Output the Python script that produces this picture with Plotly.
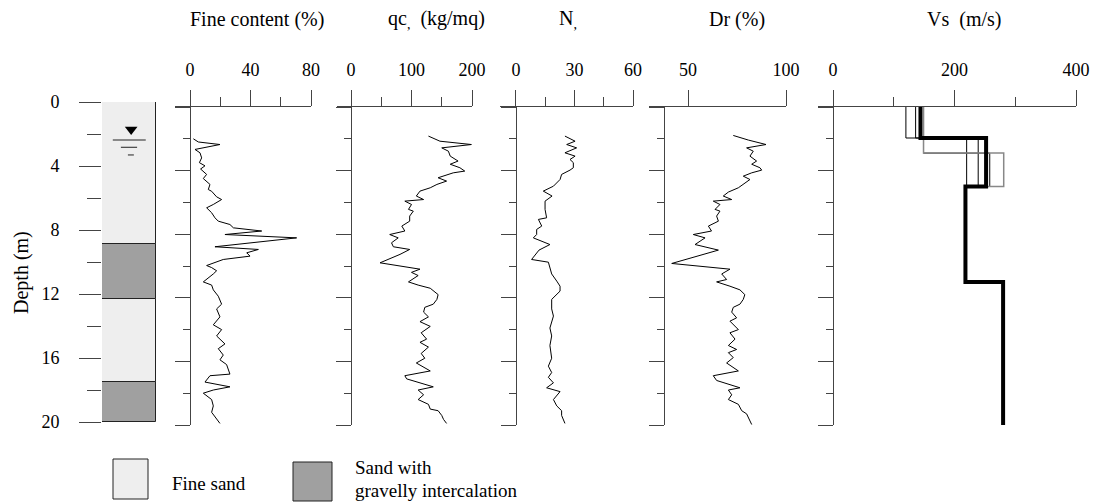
import plotly.graph_objects as go

W, H = 1095, 504
SERIF = "Liberation Serif, Times New Roman, serif"
INK = "#222222"
AXC = "#444444"


def fx(px):
    return px / W


def fy(py):
    return 1 - py / H


# ---- soil column ----
layer_top = [0, 8.9, 12.3, 17.5]
layer_bottom = [8.9, 12.3, 17.5, 20]
layer_kind = ["fine", "gravel", "fine", "gravel"]
kind_color = {"fine": "#eeeeee", "gravel": "#a0a0a0"}

# ---- CPT / SPT logs ----
fc_depth = [2.0, 2.2, 2.36, 2.67, 2.88, 3.2, 3.5, 3.7, 3.9, 4.24, 4.5, 4.87, 5.19, 5.3, 5.65,
            5.82, 6.13, 6.34, 6.65, 6.97, 7.18, 7.39, 7.6, 7.8, 8.02, 8.23, 8.79, 8.96, 9.17,
            9.38, 9.59, 9.97, 10.1, 10.3, 10.5, 11.0, 11.2, 11.5, 11.9, 12.4, 12.7, 13.2, 13.7,
            14.0, 14.4, 14.9, 15.2, 15.6, 15.9, 16.2, 16.8, 16.9, 17.3, 17.6, 17.8, 18.0, 18.4,
            18.8, 19.2, 19.65, 19.9]
fc_value = [2.2, 5.5, 19.8, 3.3, 6.6, 7.7, 6.2, 9.9, 7.0, 11, 8.8, 13.2, 12.1, 14.3, 17.6,
            20.9, 15.4, 11, 14.3, 16.5, 18.7, 26.4, 28.7, 47.4, 23.1, 70.5, 16.5, 45.2, 37.5,
            39.7, 22, 11, 14.3, 17.6, 15.4, 8.8, 14.3, 15.4, 18.7, 20.9, 17.6, 19.8, 15.4,
            20.9, 17.6, 23.1, 18.7, 22, 19.8, 24.2, 26.4, 13.2, 9.9, 26.4, 15.4, 8.8, 14.3,
            15.4, 14.3, 17.6, 19.8]

qc_depth = [1.83, 2.15, 2.36, 2.57, 2.78, 3.09, 3.4, 3.6, 3.82, 4.03, 4.14, 4.45, 4.66, 4.87,
            5.08, 5.29, 5.6, 5.82, 5.92, 6.13, 6.44, 6.55, 6.86, 7.18, 7.49, 7.8, 8.02, 8.23,
            8.54, 8.79, 8.96, 9.27, 9.8, 10.1, 10.2, 10.4, 10.6, 11.0, 11.2, 11.4, 11.7, 11.8,
            12.1, 12.4, 12.6, 12.9, 13.2, 13.5, 13.8, 14.2, 14.6, 14.8, 15.1, 15.5, 15.8, 16.1,
            16.6, 16.9, 17.1, 17.6, 17.8, 18.1, 18.4, 18.7, 19.0, 19.1, 19.4, 19.65, 19.9]
qc_value = [128, 147, 199, 150, 161, 164, 177, 164, 180, 188, 169, 144, 158, 142,
            131, 114, 108, 120, 89, 100, 95, 103, 97, 97, 84, 89, 64, 78,
            67, 70, 97, 81, 48, 97, 114, 100, 111, 95, 111, 131, 142, 144,
            142, 136, 122, 120, 128, 114, 131, 116, 125, 114, 128, 116, 122, 108,
            131, 89, 92, 136, 111, 120, 111, 128, 131, 144, 150, 153, 158]

n_depth = [1.83, 2.15, 2.36, 2.57, 2.88, 3.09, 3.3, 3.5, 3.82, 3.97, 4.24, 4.56, 4.98, 5.29,
           5.6, 5.92, 6.44, 6.97, 7.07, 7.49, 7.7, 8.02, 8.23, 8.65, 9.0, 9.59, 9.76, 10.1,
           10.5, 10.95, 11.27, 11.58, 12.1, 12.7, 13.15, 13.9, 14.4, 15.0, 15.8, 16.3, 16.7,
           17.0, 17.35, 17.66, 17.9, 18.4, 18.8, 19.1, 19.4, 19.9]
n_value = [25.1, 30.3, 26, 31.1, 25.1, 30.3, 27.7, 29.4, 29.4, 27.7, 23.4, 22.6, 19.2, 14,
           18.5, 14.9, 14.9, 15.7, 11.5, 13.2, 10.6, 10.6, 8.9, 17.4, 11.8, 8, 16.6, 17.4,
           18.3, 20.9, 22.6, 22.6, 18.3, 18.3, 19.2, 17.4, 18.3, 17.4, 18.3, 16.6, 18.3,
           16.6, 19.2, 15.7, 22.6, 19.2, 20.9, 23.4, 23.4, 25.1]

dr_depth = [1.79, 2.08, 2.36, 2.57, 2.78, 3.09, 3.4, 3.6, 3.82, 3.97, 4.14, 4.35, 4.56, 4.87,
            5.08, 5.35, 5.6, 5.82, 5.92, 6.13, 6.44, 6.55, 6.86, 7.18, 7.49, 7.8, 8.02, 8.23,
            8.65, 9.0, 9.84, 10.2, 10.5, 10.85, 11.0, 11.27, 11.5, 11.8, 12.1, 12.4, 12.6,
            12.9, 13.26, 13.47, 14.0, 14.2, 14.6, 15.0, 15.25, 15.45, 15.76, 16.1, 16.6, 16.9,
            17.2, 17.66, 17.8, 18.1, 18.4, 18.7, 19.1, 19.3, 19.55, 19.97]
dr_value = [73.1, 80.8, 89.8, 79.9, 83.3, 81.6, 85, 82.5, 86.7, 87.6, 82.5, 78.2, 81.6, 78.2,
            75.7, 70.6, 68, 72.3, 62.9, 66.3, 63.8, 66.3, 64.6, 65.5, 60.4, 62, 52.7, 58.7,
            53.6, 65.5, 41.7, 71.4, 67.2, 69.7, 64.6, 71.4, 76.5, 79, 78.2, 76.5, 73.1,
            72.3, 74.8, 71.4, 75.7, 71.4, 74, 70.6, 74.8, 70.6, 73.1, 69.7, 75.7, 62.9,
            64.6, 76.5, 70.6, 72.3, 70.6, 75.7, 77.4, 79.9, 80.8, 82.5]

# ---- shear-wave velocity profiles: layer boundaries and Vs of each layer ----
vs_design_bounds = [0, 1.95, 5.0, 11.0, 20.0]
vs_design_value = [144, 252, 218, 280]
vs_test_bounds = [0, 1.95, 5.0]
vs_test_a = [120, 220]
vs_test_b = [136, 239]
vs_test_c_bounds = [0, 2.9, 5.0]
vs_test_c = [149, 258]
vs_test_d = [149, 281]
vs_base_below = 218


def step_line(bounds, values, close_to=None):
    xs, ys = [], []
    for i, v in enumerate(values):
        xs += [v, v]
        ys += [bounds[i], bounds[i + 1]]
    if close_to is not None:
        xs.append(close_to)
        ys.append(bounds[-1])
    return xs, ys


fig = go.Figure()

# soil column as stacked bars
for top, bot, kind in zip(layer_top, layer_bottom, layer_kind):
    fig.add_trace(go.Bar(
        x=[0.5], y=[bot - top], base=[top], width=1,
        marker=dict(color=kind_color[kind], line=dict(color=INK, width=1)),
        xaxis="x", yaxis="y", showlegend=False, hoverinfo="skip"))

# water table symbol
fig.add_trace(go.Scatter(x=[0.54], y=[1.72], mode="markers",
                         marker=dict(symbol="triangle-down", size=11, color="black"),
                         xaxis="x", yaxis="y", showlegend=False, hoverinfo="skip"))
for d, x0, x1 in [(2.375, 0.2, 0.81), (2.83, 0.35, 0.65), (3.31, 0.48, 0.59)]:
    fig.add_shape(type="line", xref="x", yref="y", x0=x0, x1=x1, y0=d, y1=d,
                  line=dict(color=INK, width=1))

logs = [
    (fc_value, fc_depth, 2),
    (qc_value, qc_depth, 3),
    (n_value, n_depth, 4),
    (dr_value, dr_depth, 5),
]
for vals, deps, k in logs:
    fig.add_trace(go.Scatter(x=vals, y=deps, mode="lines",
                             line=dict(color="black", width=1),
                             xaxis=f"x{k}", yaxis=f"y{k}", showlegend=False,
                             hoverinfo="skip"))

# Vs profiles
for bounds, vals, col, wd in [
    (vs_test_bounds, vs_test_a, "black", 1),
    (vs_test_bounds, vs_test_b, "black", 1),
    (vs_test_c_bounds, vs_test_c, "black", 1),
    (vs_test_c_bounds, vs_test_d, "#888888", 1.5),
]:
    xs, ys = step_line(bounds, vals, close_to=vs_base_below)
    fig.add_trace(go.Scatter(x=xs, y=ys, mode="lines", line=dict(color=col, width=wd),
                             xaxis="x6", yaxis="y6", showlegend=False, hoverinfo="skip"))
xs, ys = step_line(vs_design_bounds, vs_design_value)
fig.add_trace(go.Scatter(x=xs, y=ys, mode="lines", line=dict(color="black", width=4),
                         xaxis="x6", yaxis="y6", showlegend=False, hoverinfo="skip"))

tickfont = dict(family=SERIF, size=18, color="black")

# column axes
fig.update_layout(
    xaxis=dict(domain=[fx(102), fx(156)], range=[0, 1], visible=False, fixedrange=True,
               automargin=False),
    yaxis=dict(domain=[fy(422), fy(102)], range=[20, 0], anchor="x", automargin=False,
               tickvals=[0, 4, 8, 12, 16, 20], ticks="outside", ticklen=22,
               tickcolor=AXC, tickwidth=1, showline=False, showgrid=False, zeroline=False,
               tickfont=tickfont, ticklabelstandoff=16,
               minor=dict(tickvals=[2, 6, 10, 14, 18], ticks="outside", ticklen=14,
                          tickcolor=AXC, tickwidth=1, showgrid=False)),
)

# log panels: (axis index, domain px left, right, range, major ticks, minor ticks, y-axis px)
panels = [
    (2, 175, 311, [-9.92, 80], [0, 40, 80], [20, 60], 190),
    (3, 337, 472, [-23.14, 200], [0, 100, 200], [50, 150], 351),
    (4, 500, 633, [-8.2, 60], [0, 30, 60], [15, 45], 516),
    (5, 649, 786, [30.1, 100], [50, 100], [], 664),
    (6, 818, 1076, [-24.7, 400], [0, 200, 400], [100, 300], 833),
]
lay = {}
for k, l, r, rng, maj, mnr, ypx in panels:
    lay[f"xaxis{k}"] = dict(
        domain=[fx(l), fx(r)], range=rng, anchor=f"y{k}", side="top", automargin=False,
        tickvals=maj, ticks="outside", ticklen=16, tickcolor=AXC, tickwidth=1,
        showline=True, linecolor=AXC, linewidth=1, showgrid=False, zeroline=False,
        tickfont=tickfont, ticklabelstandoff=7,
        minor=dict(tickvals=mnr, ticks="outside", ticklen=9, tickcolor=AXC,
                   tickwidth=1, showgrid=False))
    lay[f"yaxis{k}"] = dict(
        domain=[fy(425), fy(107)], range=[20, 0], anchor="free", position=fx(ypx),
        automargin=False,
        tickvals=[0, 4, 8, 12, 16, 20], ticks="outside", ticklen=15, tickcolor=AXC,
        tickwidth=1, showticklabels=False, showline=True, linecolor=AXC, linewidth=1,
        showgrid=False, zeroline=False,
        minor=dict(tickvals=[2, 6, 10, 14, 18], ticks="outside", ticklen=7,
                   tickcolor=AXC, tickwidth=1, showgrid=False))
fig.update_layout(**lay)

titlefont = dict(family=SERIF, size=20, color="black")
titles = [
    ("Fine content (%)", 257),
    ("qc<sub>,</sub>  (kg/mq)", 436),
    ("N<sub>,</sub>", 568),
    ("Dr (%)", 737),
    ("Vs  (m/s)", 964),
]
annotations = []
for txt, cx in titles:
    annotations.append(dict(text=txt, x=fx(cx), y=fy(20), xref="paper", yref="paper",
                            xanchor="center", yanchor="middle", showarrow=False,
                            font=titlefont))
annotations.append(dict(text="Depth (m)", x=fx(21), y=fy(273), xref="paper", yref="paper",
                        xanchor="center", yanchor="middle", showarrow=False,
                        textangle=-90, font=titlefont))

legfont = dict(family=SERIF, size=19, color="black")
annotations += [
    dict(text="Fine sand", x=fx(170), y=fy(483), xref="paper", yref="paper",
         xanchor="left", yanchor="middle", showarrow=False, font=legfont),
    dict(text="Sand with", x=fx(353), y=fy(467), xref="paper", yref="paper",
         xanchor="left", yanchor="middle", showarrow=False, font=legfont),
    dict(text="gravelly intercalation", x=fx(353), y=fy(490), xref="paper", yref="paper",
         xanchor="left", yanchor="middle", showarrow=False, font=legfont),
]
shapes = [
    dict(type="rect", xref="paper", yref="paper", x0=fx(113), x1=fx(148),
         y0=fy(499), y1=fy(459), fillcolor=kind_color["fine"],
         line=dict(color=INK, width=1)),
    dict(type="rect", xref="paper", yref="paper", x0=fx(293), x1=fx(332),
         y0=fy(501), y1=fy(462), fillcolor=kind_color["gravel"],
         line=dict(color=INK, width=1)),
]
for s in shapes:
    fig.add_shape(**s)

fig.update_layout(
    width=W, height=H, margin=dict(l=0, r=0, t=0, b=0, autoexpand=False),
    paper_bgcolor="white", plot_bgcolor="white",
    annotations=annotations, barmode="overlay", bargap=0,
    font=dict(family=SERIF, color="black"),
)

fig.write_html("out.html")
